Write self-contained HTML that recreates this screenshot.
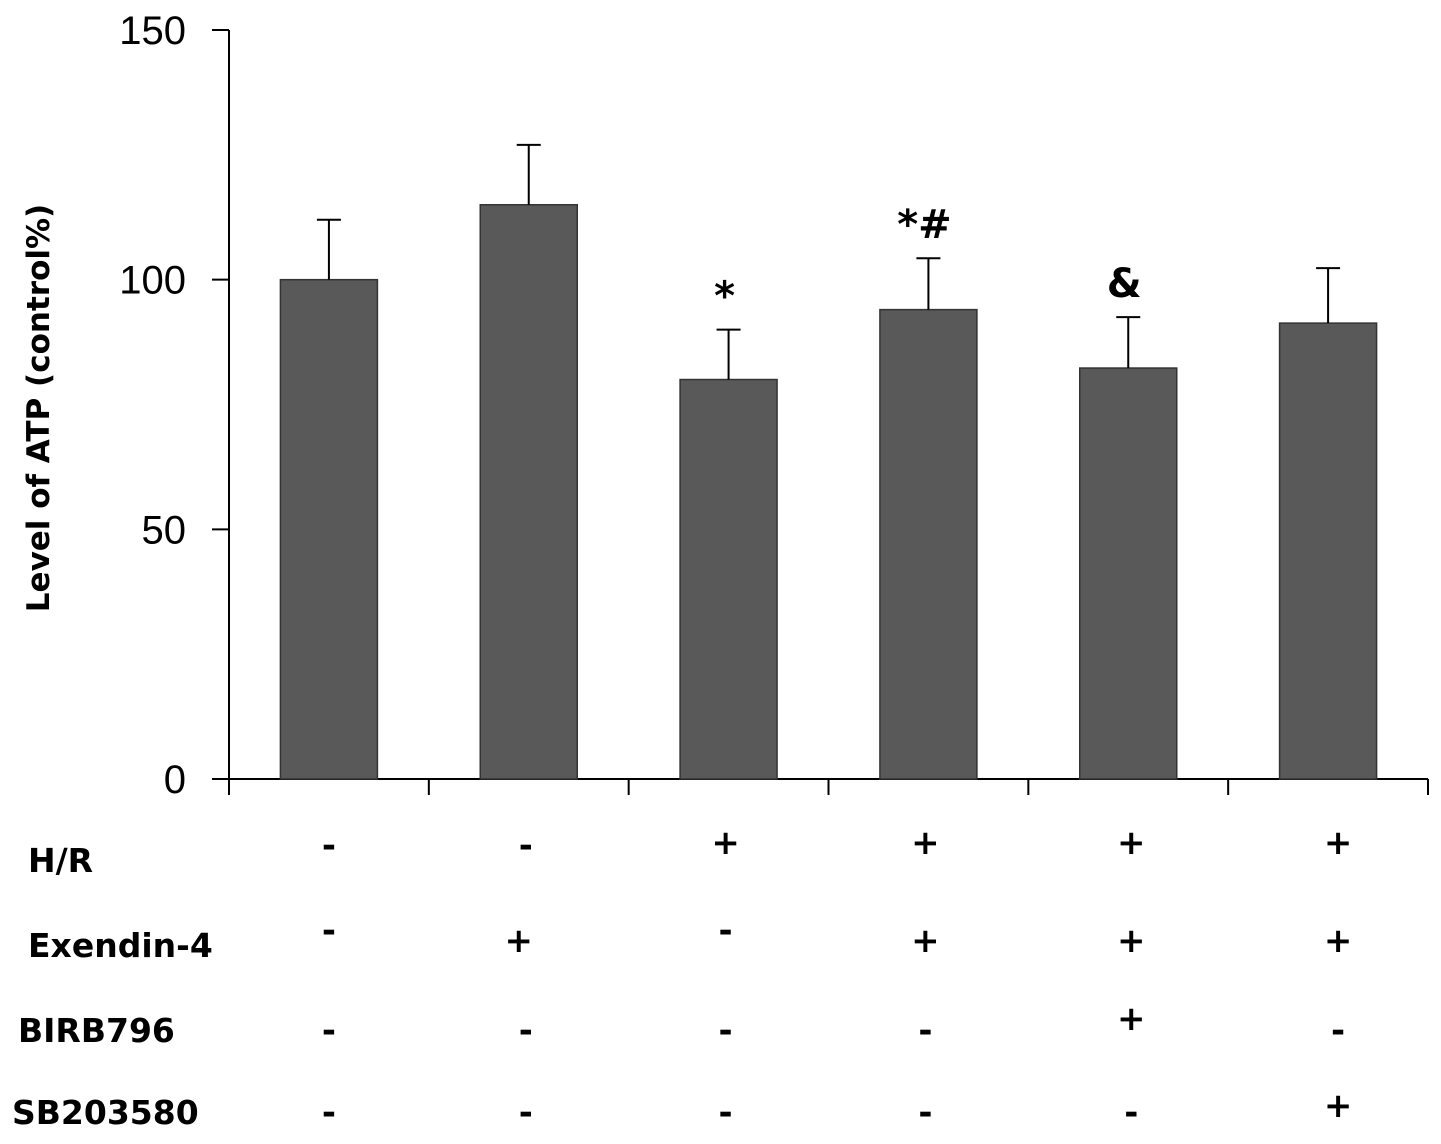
<!DOCTYPE html>
<html><head><meta charset="utf-8"><style>
body{margin:0;background:#fff;}
svg{display:block;font-family:"Liberation Sans",Arial,sans-serif;}
.b{font-family:"DejaVu Sans","Liberation Sans",sans-serif;font-weight:bold;}
</style></head><body>
<svg id="chart" width="1441" height="1144" viewBox="0 0 1441 1144">
<g id="axes"></g><g id="bars"></g><g id="labels"></g>
</svg>
<script>
const categories=["G1","G2","G3","G4","G5","G6"];
const values=[100,115,80,94,82.3,91.3];
const errors=[12,12,10,10.3,10.2,11];
const marks=["","","*","*#","&",""];
const yTicks=[0,50,100,150];
const rowNames=["H/R","Exendin-4","BIRB796","SB203580"];
const hr=["-","-","+","+","+","+"];
const ex=["-","+","-","+","+","+"];
const birb=["-","-","-","-","+","-"];
const sb=["-","-","-","-","-","+"];
const ns="http://www.w3.org/2000/svg";
const x0=229,x1=1428,yBase=779,yTop=30;
const y=v=>yBase-(v/150)*(yBase-yTop);
const band=(x1-x0)/categories.length;
const cx=i=>x0+band*(i+0.5);
function mk(tag,attrs,parent,text){const e=document.createElementNS(ns,tag);for(const k in attrs)e.setAttribute(k,attrs[k]);if(text!==undefined)e.textContent=text;parent.appendChild(e);return e;}
const axes=document.getElementById('axes'),bars=document.getElementById('bars'),labels=document.getElementById('labels');
let a=mk('line',{x1:x0,y1:yTop,x2:x0,y2:yBase,stroke:'#000','stroke-width':2},axes);


a=mk('line',{x1:x0,y1:yBase,x2:x1,y2:yBase,stroke:'#000','stroke-width':2},axes);


yTicks.forEach(t=>{
 let l=mk('line',{x1:212,y1:y(t),x2:x0,y2:y(t),stroke:'#000','stroke-width':2},axes);
 
 
 let tx=mk('text',{x:186,y:y(t)+14,'text-anchor':'end','font-size':40},axes,String(t));
 
 
});
for(let i=0;i<=categories.length;i++){
 let l=mk('line',{x1:x0+band*i,y1:yBase,x2:x0+band*i,y2:yBase+16,stroke:'#000','stroke-width':2},axes);
 
 
}
let yt=mk('text',{x:0,y:0,'class':'b','font-size':31,'text-anchor':'middle',transform:'translate(49,408) rotate(-90)'},axes,'Level of ATP (control%)');


const bw=97;
values.forEach((v,i)=>{
 let r=mk('rect',{x:cx(i)-bw/2,y:y(v),width:bw,height:yBase-y(v),fill:'#595959',stroke:'#333','stroke-width':1.5},bars);
 
 
 const et=y(v+errors[i]);
 let e=mk('path',{d:`M${cx(i)},${y(v)}V${et}M${cx(i)-12},${et}H${cx(i)+12}`,stroke:'#000','stroke-width':2,fill:'none'},bars);
 
 
 if(marks[i]){
  let m=mk('text',{x:cx(i)-4,y:et-20,'text-anchor':'middle','font-size':40,'class':'b'},labels,marks[i]);
  
  
 }
});
const rows=[hr,ex,birb,sb];
const rowY=[860,945,1030,1112];
const rowX=[28,28,18,12];
const colOff=[0,-3,-3,-3,3,10];
const plusY=[842,940,1018,1105];
const minusY=[845,930,1030,1112];
rows.forEach((row,r)=>{
 let t=mk('text',{x:rowX[r],y:rowY[r]+12,'font-size':33,'class':'b'},labels,rowNames[r]);
 
 
 row.forEach((s,i)=>{
  const xx=cx(i)+colOff[i]-(i===1&&r===1?7:0);
  const cyy=s==='+'?plusY[r]:minusY[r];
  let sg=mk('text',{x:xx,y:cyy+12,'text-anchor':'middle','font-size':34,'class':'b'},labels,s);
  
  
 });
});
</script>
</body></html>
